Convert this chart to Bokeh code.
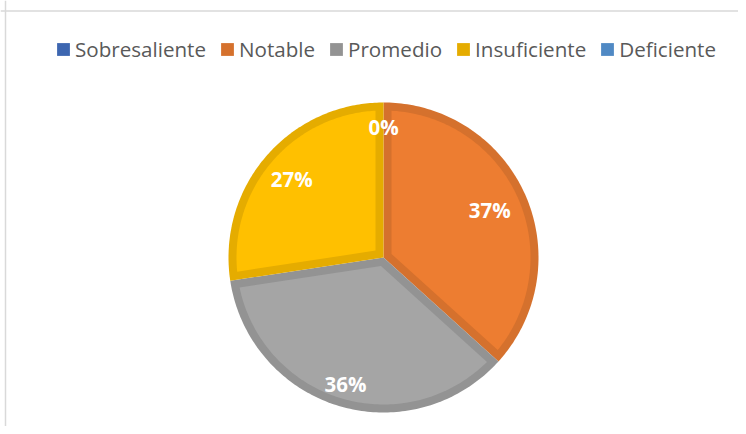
import math
from bokeh.plotting import figure
from bokeh.models import Range1d, Legend, LegendItem, Span
from bokeh.core.properties import value
from bokeh.embed import file_html
from bokeh.resources import INLINE

# ---- data ----
categories = ["Sobresaliente", "Notable", "Promedio", "Insuficiente", "Deficiente"]
values = [0, 36.7, 35.9, 27.4, 0]

# ---- styles ----
fill_colors = ["#4472C4", "#ED7D31", "#A5A5A5", "#FFC000", "#5B9BD5"]
band_colors = ["#3D66B0", "#D5712D", "#939393", "#E5AC00", "#5089C4"]
label_rfrac = [0.84, 0.75, 0.85, 0.78, 0.84]

W, H = 738, 426
p = figure(width=W, height=H, output_backend="svg", toolbar_location=None,
           x_range=Range1d(0, W), y_range=Range1d(0, H),
           x_axis_type=None, y_axis_type=None, min_border=0)
p.grid.visible = False
p.outline_line_color = None
p.background_fill_color = "white"
p.border_fill_color = "white"

# chart border (top and left visible)
p.add_layout(Span(location=H - 10.5, dimension="width", line_color="#D9D9D9", line_width=1.5))
p.add_layout(Span(location=5, dimension="height", line_color="#D9D9D9", line_width=1.5))

cx, cy, R, d = 383, 169, 155, 8
total = sum(values)

def pt(r, t):
    return cx + r * math.sin(t), cy + r * math.cos(t)

outer_xs, outer_ys, inner_xs, inner_ys, ic = [], [], [], [], []
lab_x, lab_y, lab_t = [], [], []
cum = 0.0
seen = set()
n = 120
for i, v in enumerate(values):
    t0 = 2 * math.pi * cum / total
    cum += v
    t1 = 2 * math.pi * cum / total
    tm = (t0 + t1) / 2
    # outer (band) polygon, one per category (zero slices are degenerate)
    xs, ys = [cx], [cy]
    for k in range(n + 1):
        x, y = pt(R, t0 + (t1 - t0) * k / n)
        xs.append(x); ys.append(y)
    outer_xs.append(xs); outer_ys.append(ys)
    if v > 0:
        half = (t1 - t0) / 2
        ax, ay = pt(d / math.sin(half), tm)
        ri = R - d
        off = math.asin(d / ri)
        a0, a1 = t0 + off, t1 - off
        xs, ys = [ax], [ay]
        for k in range(n + 1):
            x, y = pt(ri, a0 + (a1 - a0) * k / n)
            xs.append(x); ys.append(y)
        inner_xs.append(xs); inner_ys.append(ys); ic.append(fill_colors[i])
    key = round(math.degrees(tm) % 360, 3)
    if key in seen:
        continue
    seen.add(key)
    lx, ly = pt(label_rfrac[i] * R, tm)
    lab_x.append(lx); lab_y.append(ly)
    lab_t.append(f"{round(v / total * 100)}%")

outer = p.patches(xs=outer_xs, ys=outer_ys, fill_color=band_colors, line_color=None)
p.patches(xs=inner_xs, ys=inner_ys, fill_color=ic, line_color=None)

p.text(x=lab_x, y=lab_y, text=lab_t, text_align="center", text_baseline="middle",
       text_color="white", text_font=value("Open Sans"), text_font_style="bold",
       text_font_size="20.5px")

items = [LegendItem(label=cat, renderers=[outer], index=i) for i, cat in enumerate(categories)]

legend = Legend(items=items, orientation="horizontal", location=(55, 363),
                glyph_width=16, glyph_height=16, label_standoff=4, spacing=13,
                padding=0, margin=0, border_line_color=None, background_fill_alpha=0,
                label_text_font="Open Sans", label_text_font_size="20.6px",
                label_text_color="#595959", label_height=21)
p.add_layout(legend)

open("out.html", "w").write(file_html(p, INLINE))
